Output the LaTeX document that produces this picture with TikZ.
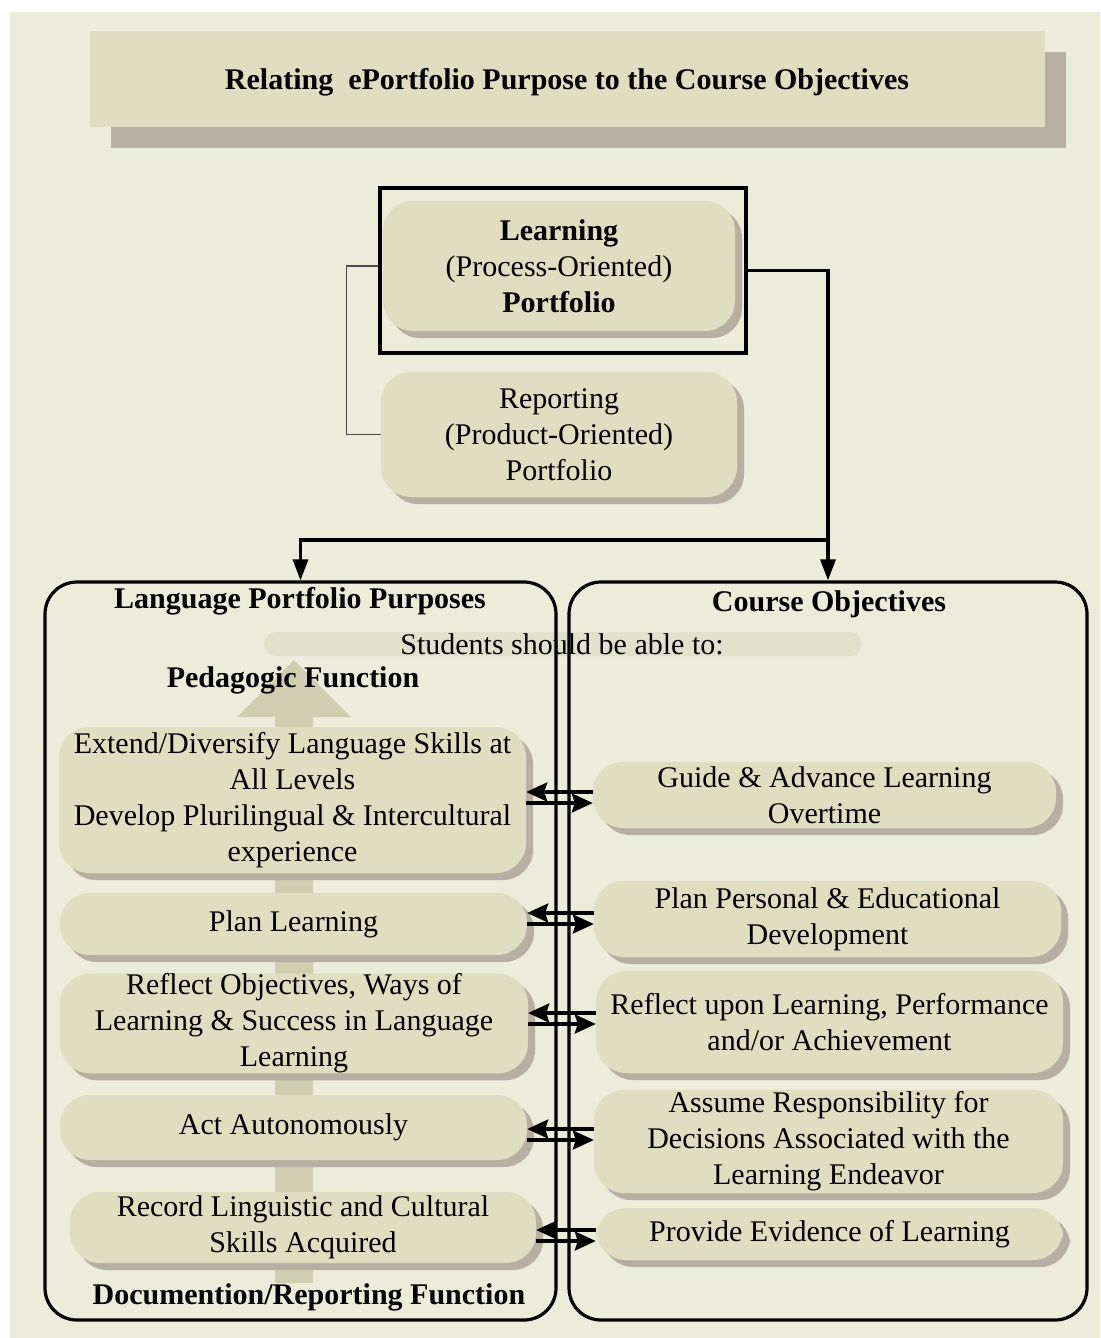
\documentclass[tikz,border=0pt]{standalone}
\usepackage{fontspec}
\setmainfont{Liberation Serif}
\usetikzlibrary{positioning,arrows.meta,shadows,calc}
\definecolor{paper}{HTML}{ECECDA}
\definecolor{boxfill}{HTML}{DFDEC0}
\definecolor{boxshade}{HTML}{B7AFA2}
\definecolor{pillar}{HTML}{CFCEB0}
\definecolor{strip}{HTML}{E2E1CC}

\begin{document}
\begin{tikzpicture}[x=1pt,y=-1pt,font=\fontsize{30}{36}\selectfont]
  \tikzstyle{item}=[rectangle,rounded corners=30pt,fill=boxfill,align=center,inner sep=0pt,
    drop shadow={shadow xshift=7pt,shadow yshift=-7pt,fill=boxshade,opacity=1}]
  \tikzstyle{panel}=[draw,line width=3.2pt,rounded corners=32pt,inner sep=0pt]
  \tikzstyle{head}=[font=\fontsize{30}{36}\selectfont\bfseries,inner sep=0pt,anchor=base]
  \tikzstyle{conn}=[line width=3.2pt,-{Triangle[length=21pt,width=15pt]}]
  \tikzstyle{link}=[line width=3.2pt,-{Stealth[length=21pt,width=19pt,inset=3pt]}]

  \useasboundingbox (0,0) rectangle (1100,1338);
  \fill[paper] (10,12) rectangle (1100,1338);

  % title
  \node[rectangle,fill=boxfill,minimum width=955pt,minimum height=96pt,inner sep=0pt,
    drop shadow={shadow xshift=21pt,shadow yshift=-21pt,fill=boxshade,opacity=1}] (title) at (567.5,79) {};
  \node[head] (titletext) at (567,89) {Relating~ ePortfolio Purpose to the Course Objectives};

  % portfolio types
  \node[item,minimum width=352pt,minimum height=130pt] (learn) at (559,266)
    {\textbf{Learning}\\(Process-Oriented)\\\textbf{Portfolio}};
  \node[item,minimum width=356pt,minimum height=125pt] (report) at (559,434.5)
    {Reporting\\(Product-Oriented)\\Portfolio};
  \node[draw,line width=3.2pt,minimum width=366pt,minimum height=165pt,inner sep=0pt] (pick) at (563,270.5) {};
  \draw[black!70,line width=1.3pt] (pick.west |- learn.west) -- ++(-32,0) |- (report.west);

  % upward pillar behind the purposes
  \fill[pillar] (275,1283) -- (275,717) -- (237,717) -- (294,660) -- (351,717)
    -- (313,717) -- (313,1283) -- cycle;
  \node[fill=strip,rounded corners=12pt,minimum width=598pt,minimum height=24pt,inner sep=0pt] (bar) at (563,644) {};
  \node[anchor=base,inner sep=0pt] (able) at (562,654) {Students should be able to:};

  % two panels
  \node[panel,minimum width=511pt,minimum height=738pt] (purp) at (300.5,951) {};
  \node[panel,minimum width=518pt,minimum height=738pt] (objs) at (828,951) {};
  \node[head] (purptext) at (300,608) {Language Portfolio Purposes};
  \node[head] (objstext) at (829,611) {Course Objectives};
  \node[head] (pedag) at (293,687) {Pedagogic Function};
  \node[head] (docum) at (309,1304) {Documention/Reporting Function};

  \coordinate (split) at (objs.north |- 0,540);
  \draw[conn] (pick.east) -| (objs.north);
  \draw[conn] (split) -| (purp.north);

  % purposes
  \node[item,minimum width=467pt,minimum height=146pt] (ex) at (292.5,800)
    {Extend/Diversify Language Skills at\\All Levels\\Develop Plurilingual \& Intercultural\\experience};
  \node[item,minimum width=467pt,minimum height=62pt] (pl) at (293.5,924) {Plan Learning};
  \node[item,minimum width=468pt,minimum height=95pt] (ro) at (294,1023.5)
    {Reflect Objectives, Ways of\\Learning \& Success in Language\\Learning};
  \node[item,minimum width=467pt,minimum height=65pt] (aa) at (293.5,1127.5) {Act Autonomously};
  \node[item,minimum width=466pt,minimum height=71pt] (rc) at (303,1227.5)
    {Record Linguistic and Cultural\\Skills Acquired};

  % objectives
  \node[item,minimum width=463pt,minimum height=66pt] (gd) at (824.5,795)
    {Guide \& Advance Learning\\Overtime};
  \node[item,minimum width=467pt,minimum height=76pt] (pp) at (827.5,919)
    {Plan Personal \& Educational\\Development};
  \node[item,minimum width=467pt,minimum height=102pt] (ru) at (829.5,1022)
    {Reflect upon Learning, Performance\\and/or Achievement};
  \node[item,minimum width=469pt,minimum height=103pt] (ar) at (828.5,1141.5)
    {Assume Responsibility for\\Decisions Associated with the\\Learning Endeavor};
  \node[item,minimum width=467pt,minimum height=52pt] (pe) at (829.5,1234)
    {Provide Evidence of Learning};

  \foreach \l/\r/\y in {ex/gd/792,pl/pp/913,ro/ru/1013,aa/ar/1129,rc/pe/1230}{
    \draw[link] (\r.west |- 0,\y) -- (\l.east |- 0,\y);
    \draw[link] (\l.east |- 0,\y+11) -- (\r.west |- 0,\y+11);
  }
\end{tikzpicture}
\end{document}
